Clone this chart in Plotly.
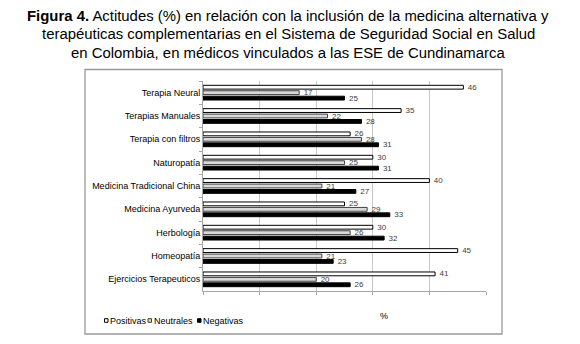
import plotly.graph_objects as go

categories = ["Terapia Neural", "Terapias Manuales", "Terapia con filtros", "Naturopatía",
              "Medicina Tradicional China", "Medicina Ayurveda", "Herbología",
              "Homeopatía", "Ejercicios Terapeuticos"]
positivas = [46, 35, 26, 30, 40, 25, 30, 45, 41]
neutrales = [17, 22, 28, 25, 21, 29, 26, 21, 20]
negativas = [25, 28, 31, 31, 27, 33, 32, 23, 26]
series_names = ["Positivas", "Neutrales", "Negativas"]
title_lines = [
    "<b>Figura 4.</b> Actitudes (%) en relación con la inclusión de la medicina alternativa y",
    "terapéuticas complementarias en el Sistema de Seguridad Social en Salud",
    "en Colombia, en médicos vinculados a las ESE de Cundinamarca",
]

FONT = "Liberation Sans, Arial, sans-serif"
OFF = 8  # page body margin: screen = figure + 8
W, H = 580 - OFF, 344 - OFF
# plot area in screen pixels
SL, SR, ST, SB = 203, 486, 81, 291
L, R, T, B = SL - OFF, SR - OFF, ST - OFF, SB - OFF

def px(x):  # screen x -> paper
    return (x - SL) / (SR - SL)

def py(y):  # screen y -> paper
    return (SB - y) / (SB - ST)

fills = ["#ffffff", "#d9d9d9", "#000000"]
lines = ["#000000", "#404040", "#000000"]
values = [positivas, neutrales, negativas]

fig = go.Figure()
for name, vals, fill, line in zip(series_names, values, fills, lines):
    fig.add_trace(go.Bar(
        y=categories, x=vals, name=name, orientation="h",
        marker=dict(color=fill, line=dict(color=line, width=1)),
        text=["\u00a0\u00a0" + str(v) for v in vals], textposition="outside",
        textfont=dict(size=8, color="#404040", family=FONT),
        outsidetextfont=dict(size=8, color="#404040", family=FONT),
        constraintext="none", cliponaxis=False, showlegend=False,
    ))

annotations = []
for line_txt, yc in zip(title_lines, [16, 34.5, 52.8]):
    annotations.append(dict(text=line_txt, xref="paper", yref="paper", x=px(288), y=py(yc),
                            xanchor="center", yanchor="middle", showarrow=False,
                            font=dict(size=14.9, family=FONT, color="#000000")))
annotations.append(dict(text="%", xref="paper", yref="paper", x=px(384), y=py(323),
                        showarrow=False, font=dict(size=9, family=FONT)))

# outer chart frame
shapes = [dict(type="rect", xref="paper", yref="paper",
               x0=px(85), x1=px(502), y0=py(334), y1=py(69.5),
               line=dict(color="#9a9a9a", width=1.3), layer="above")]
# compact legend: small squares + labels
leg_sq_x = [104.5, 148, 197.5]
leg_y = 320.5
for name, fill, line, sx in zip(series_names, fills, lines, leg_sq_x):
    shapes.append(dict(type="rect", xref="paper", yref="paper",
                       x0=px(sx), x1=px(sx + 3.5), y0=py(leg_y + 1.8), y1=py(leg_y - 1.8),
                       fillcolor=fill, line=dict(color=line, width=1)))
    annotations.append(dict(text=name, xref="paper", yref="paper", x=px(sx + 3.8), y=py(leg_y),
                            xanchor="left", yanchor="middle", showarrow=False,
                            font=dict(size=9, family=FONT, color="#000000")))

fig.update_layout(
    width=W, height=H,
    margin=dict(l=L, r=W - R, t=T, b=H - B, autoexpand=False),
    paper_bgcolor="white", plot_bgcolor="white",
    font=dict(family=FONT, size=9, color="#000000"),
    barmode="group", bargap=0.3, bargroupgap=0.3,
    showlegend=False,
    xaxis=dict(range=[0, 50], dtick=10, showgrid=True, gridcolor="#c8c8c8", gridwidth=1,
               showline=True, linecolor="#a6a6a6", ticks="outside", ticklen=3,
               tickcolor="#a6a6a6", showticklabels=False, zeroline=False, automargin=False),
    yaxis=dict(type="category", autorange="reversed", showline=True, linecolor="#a6a6a6",
               ticks="outside", tickson="boundaries", ticklen=3, tickcolor="#a6a6a6",
               showgrid=False, tickfont=dict(size=9, family=FONT), automargin=False),
    shapes=shapes,
    annotations=annotations,
)

fig.write_html("out.html")
